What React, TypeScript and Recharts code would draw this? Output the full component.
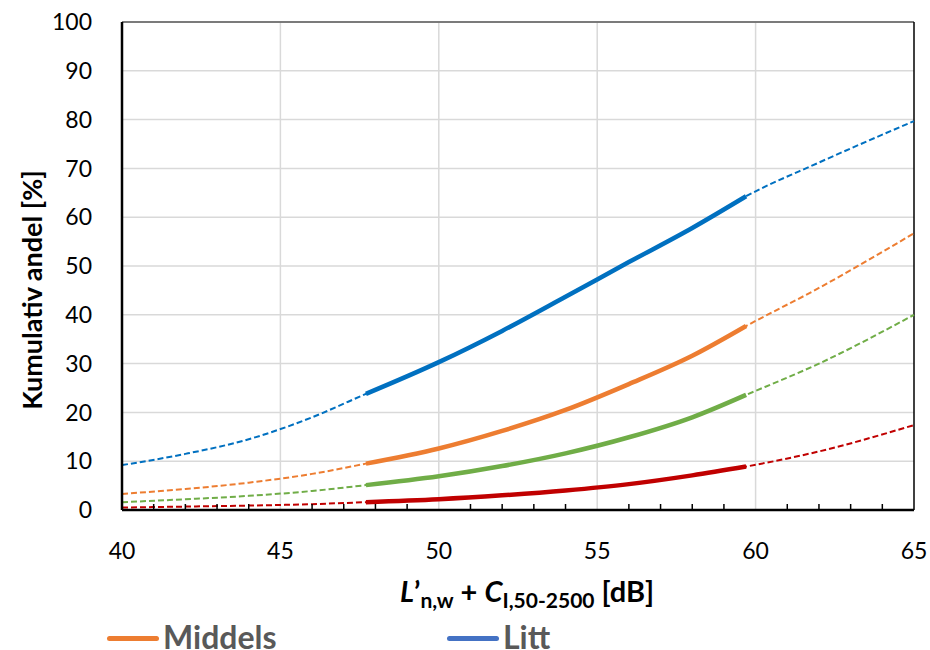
import {
  CartesianGrid,
  Line,
  LineChart,
  ReferenceLine,
  XAxis,
  YAxis,
} from "recharts";

// sound level, dB
const xValues = [40, 42, 44, 46, 47.7, 50, 52, 54, 56, 58, 59.7, 62, 65];
// cumulative share [%]
const littValues = [9.2, 11.5, 14.5, 19.0, 23.8, 30.3, 36.7, 43.7, 50.8, 57.8, 64.3, 71.2, 79.7];
const middelsValues = [3.3, 4.3, 5.6, 7.4, 9.5, 12.6, 16.2, 20.5, 25.8, 31.6, 37.7, 45.5, 56.7];
const greenValues = [1.6, 2.2, 2.9, 3.9, 5.1, 6.9, 9.0, 11.6, 14.9, 19.0, 23.6, 30.0, 40.0];
const redValues = [0.5, 0.7, 0.9, 1.2, 1.6, 2.2, 3.0, 4.0, 5.3, 7.1, 8.9, 12.0, 17.4];
const solidRange = [47.7, 59.7];

const xTicks = [
  40, 41, 42, 43, 44, 45, 46, 47, 48, 49, 50, 51, 52, 53, 54, 55, 56, 57, 58, 59,
  60, 61, 62, 63, 64, 65,
];
const xMajor = [45, 50, 55, 60];
const yTicks = [0, 10, 20, 30, 40, 50, 60, 70, 80, 90, 100];

const series = [
  { key: "red", values: redValues, color: "#C00000" },
  { key: "green", values: greenValues, color: "#70AD47" },
  { key: "middels", values: middelsValues, color: "#ED7D31" },
  { key: "litt", values: littValues, color: "#0070C0" },
];

const rows = xValues.map((x, i) => {
  const row: Record<string, number | null> = { x };
  const inSolid = x >= solidRange[0] && x <= solidRange[1];
  series.forEach((s) => {
    row[s.key] = s.values[i];
    row[s.key + "Solid"] = inSolid ? s.values[i] : null;
  });
  return row;
});

const FONT = "Lato, 'Open Sans', sans-serif";

function XTick(props: any) {
  const { x, y, payload } = props;
  const v = payload.value as number;
  const major = v % 5 === 0;
  return (
    <g>
      {!major && <line x1={x} x2={x} y1={y} y2={y - 6} stroke="#000" strokeWidth={1.5} />}
      {major && (
        <text
          x={x}
          y={y + 40}
          textAnchor="middle"
          dominantBaseline="central"
          fontSize={23}
          fill="#000"
          fontFamily={FONT}
        >
          {v}
        </text>
      )}
    </g>
  );
}

export default function App() {
  return (
    <div
      style={{
        position: "absolute",
        left: 0,
        top: 0,
        width: 930,
        height: 650,
        overflow: "hidden",
        background: "#fff",
        fontFamily: FONT,
      }}
    >
      <LineChart
        width={930}
        height={650}
        data={rows}
        margin={{ top: 22, right: 16, bottom: 0, left: 0 }}
      >
        <CartesianGrid
          stroke="#d9d9d9"
          strokeWidth={1.5}
          horizontalValues={yTicks}
          verticalCoordinatesGenerator={({ xAxis, offset }: any) =>
            xMajor.map((v) =>
              xAxis && typeof xAxis.scale === "function"
                ? xAxis.scale(v)
                : offset.left + ((v - 40) / 25) * offset.width
            )
          }
        />
        <ReferenceLine y={100} stroke="#595959" strokeWidth={1.5} />
        <ReferenceLine x={65} stroke="#000" strokeWidth={1.5} />
        <XAxis
          dataKey="x"
          type="number"
          domain={[40, 65]}
          ticks={xTicks}
          interval={0}
          height={140}
          tickSize={0}
          tickMargin={0}
          tickLine={false}
          axisLine={{ stroke: "#000", strokeWidth: 2.5 }}
          tick={<XTick />}
        />
        <YAxis
          type="number"
          domain={[0, 100]}
          ticks={yTicks}
          interval={0}
          width={122}
          tickSize={0}
          tickMargin={30}
          tickLine={false}
          axisLine={{ stroke: "#000", strokeWidth: 2.5 }}
          tick={{ fontSize: 23, fill: "#000", fontFamily: FONT }}
        />
        {series.map((s) => (
          <Line
            key={s.key}
            dataKey={s.key}
            type="monotone"
            stroke={s.color}
            strokeWidth={2}
            strokeDasharray="6 3"
            dot={false}
            activeDot={false}
            isAnimationActive={false}
          />
        ))}
        {series.map((s) => (
          <Line
            key={s.key + "Solid"}
            dataKey={s.key + "Solid"}
            type="monotone"
            stroke={s.color}
            strokeWidth={4.5}
            dot={false}
            activeDot={false}
            connectNulls={false}
            isAnimationActive={false}
          />
        ))}
      </LineChart>

      {/* axis titles */}
      <svg
        width={930}
        height={650}
        style={{ position: "absolute", left: 0, top: 0, pointerEvents: "none" }}
      >
        <text
          transform="translate(31,290) rotate(-90)"
          textAnchor="middle"
          dominantBaseline="central"
          fontSize={27}
          fontWeight={700}
          fill="#000"
          fontFamily={FONT}
        >
          Kumulativ andel [%]
        </text>
        <text
          x={527}
          y={602}
          textAnchor="middle"
          fontSize={29}
          fontWeight={700}
          fill="#000"
          fontFamily={FONT}
        >
          <tspan fontStyle="italic">L</tspan>
          <tspan>’</tspan>
          <tspan fontSize={21} dy={6}>n,w</tspan>
          <tspan dy={-6}> + </tspan>
          <tspan fontStyle="italic">C</tspan>
          <tspan fontSize={21} dy={6}>I,50-2500</tspan>
          <tspan dy={-6}> [dB]</tspan>
        </text>
      </svg>

      {/* legend, cut off at the bottom like the reference */}
      <LegendItem left={107} color="#ED7D31" label="Middels" />
      <LegendItem left={447} color="#4472C4" label="Litt" />
    </div>
  );
}

function LegendItem({ left, color, label }: { left: number; color: string; label: string }) {
  return (
    <div
      style={{
        position: "absolute",
        left,
        top: 618,
        display: "flex",
        alignItems: "center",
        whiteSpace: "nowrap",
      }}
    >
      <span
        style={{
          display: "inline-block",
          width: 52,
          height: 5,
          borderRadius: 3,
          background: color,
          marginRight: 4,
          marginTop: 2,
        }}
      />
      <span style={{ fontSize: 32, fontWeight: 700, color: "#595959", lineHeight: "38px" }}>
        {label}
      </span>
    </div>
  );
}
